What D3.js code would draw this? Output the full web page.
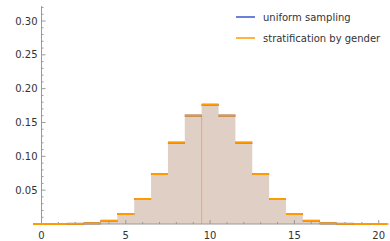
<!DOCTYPE html>
<html>
<head>
<meta charset="utf-8">
<script src="https://cdn.jsdelivr.net/npm/d3@7"></script>
<style>
  body { margin: 0; background: #fff; }
  svg text { font-family: "DejaVu Sans", sans-serif; }
</style>
</head>
<body>
<div id="chart"></div>
<script>
// data
const counts = d3.range(0, 21)
const uniformSampling = [0.000001, 0.000019, 0.000181, 0.001087, 0.004621, 0.014786, 0.036964, 0.073929, 0.120134, 0.160179, 0.176197, 0.160179, 0.120134, 0.073929, 0.036964, 0.014786, 0.004621, 0.001087, 0.000181, 0.000019, 0.000001]
const stratByGender = [0.000001, 0.000019, 0.000181, 0.001087, 0.004621, 0.014786, 0.036964, 0.073929, 0.120134, 0.160179, 0.176197, 0.160179, 0.120134, 0.073929, 0.036964, 0.014786, 0.004621, 0.001087, 0.000181, 0.000019, 0.000001]
const xTicks = [0, 5, 10, 15, 20]
const yTicks = [0.05, 0.10, 0.15, 0.20, 0.25, 0.30]
const seriesNames = ['uniform sampling', 'stratification by gender']

// dims
const width = 390
const height = 241
const blue = '#3a55d0'
const orange = '#ff9a00'
const axisColor = '#9a9a9a'
const textColor = '#333'

const scaleX = d3.scaleLinear().domain([0, 20]).range([41.5, 378.7])
const scaleY = d3.scaleLinear().domain([0, 0.30]).range([224, 21])

const $svg = d3.select('#chart').append('svg')
  .attr('width', width)
  .attr('height', height)

const series = [
  { name: seriesNames[0], color: blue, values: uniformSampling },
  { name: seriesNames[1], color: orange, values: stratByGender }
]

// filled steps
series.forEach(s => {
  const pts = []
  counts.forEach((c, i) => {
    pts.push([c - 0.5, s.values[i]])
    pts.push([c + 0.5, s.values[i]])
  })
  const area = d3.area()
    .x(d => scaleX(d[0]))
    .y0(scaleY(0))
    .y1(d => scaleY(d[1]))
  $svg.append('path')
    .datum(pts)
    .attr('d', area)
    .attr('fill', s.color)
    .attr('fill-opacity', 0.2)
})

// marker line
$svg.append('line')
  .attr('x1', scaleX(9.5)).attr('x2', scaleX(9.5))
  .attr('y1', scaleY(0)).attr('y2', scaleY(stratByGender[9]))
  .attr('stroke', '#e8a878')
  .attr('stroke-width', 1)

// axes
const $axes = $svg.append('g')
$axes.append('line')
  .attr('x1', scaleX(-0.5)).attr('x2', scaleX(20.6))
  .attr('y1', scaleY(0)).attr('y2', scaleY(0))
  .attr('stroke', axisColor)
$axes.append('line')
  .attr('x1', scaleX(0)).attr('x2', scaleX(0))
  .attr('y1', scaleY(0)).attr('y2', scaleY(0.322))
  .attr('stroke', axisColor)

// x ticks
d3.range(0, 21).forEach(v => {
  const major = v % 5 === 0
  $axes.append('line')
    .attr('x1', scaleX(v)).attr('x2', scaleX(v))
    .attr('y1', scaleY(0)).attr('y2', scaleY(0) - (major ? 4 : 2))
    .attr('stroke', axisColor)
})
xTicks.forEach(v => {
  $axes.append('text')
    .attr('x', scaleX(v)).attr('y', scaleY(0) + 15)
    .attr('text-anchor', 'middle')
    .attr('font-size', 10)
    .attr('fill', textColor)
    .text(v)
})

// y ticks
d3.range(1, 33).forEach(i => {
  const v = i / 100
  const major = i % 5 === 0
  $axes.append('line')
    .attr('x1', scaleX(0)).attr('x2', scaleX(0) + (major ? 4 : 2))
    .attr('y1', scaleY(v)).attr('y2', scaleY(v))
    .attr('stroke', axisColor)
})
yTicks.forEach(v => {
  $axes.append('text')
    .attr('x', scaleX(0) - 4).attr('y', scaleY(v))
    .attr('dy', '0.35em')
    .attr('text-anchor', 'end')
    .attr('font-size', 10)
    .attr('fill', textColor)
    .text(v.toFixed(2))
})

// step lines
series.forEach(s => {
  $svg.append('g')
    .selectAll('line')
    .data(counts)
    .enter()
    .append('line')
    .attr('x1', d => scaleX(d - 0.5))
    .attr('x2', d => scaleX(d + 0.5))
    .attr('y1', (d, i) => scaleY(s.values[i]))
    .attr('y2', (d, i) => scaleY(s.values[i]))
    .attr('stroke', s.color)
    .attr('stroke-width', 2)
})

// legend
const $legend = $svg.append('g').attr('transform', 'translate(236, 17)')
series.forEach((s, i) => {
  const $row = $legend.append('g').attr('transform', `translate(0, ${i * 21})`)
  $row.append('line')
    .attr('x1', 0).attr('x2', 19)
    .attr('stroke', s.color).attr('stroke-width', 1.5)
  $row.append('text')
    .attr('x', 27).attr('dy', '0.35em')
    .attr('font-size', 10)
    .attr('fill', textColor)
    .text(s.name)
})
</script>
</body>
</html>
